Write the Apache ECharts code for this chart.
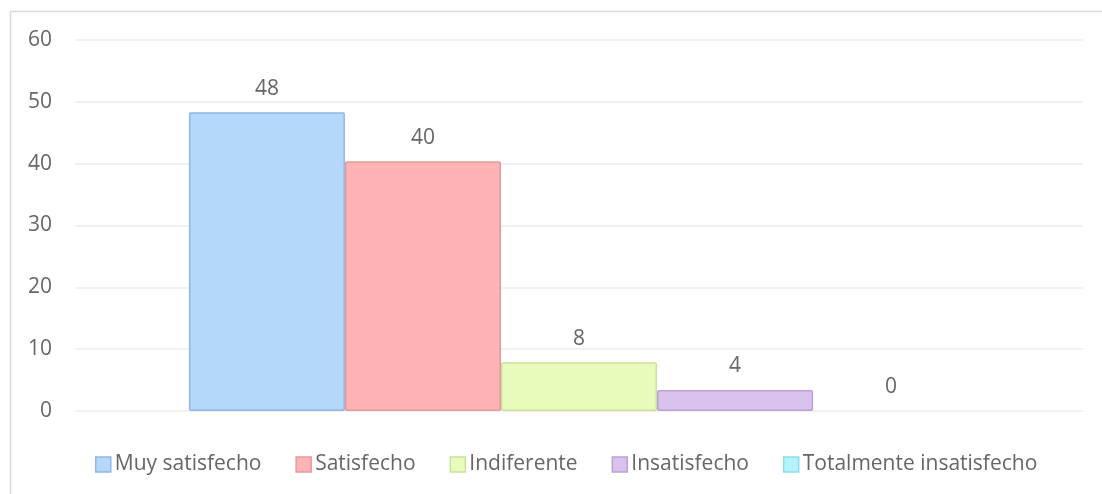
<!DOCTYPE html>
<html>
<head>
<meta charset="utf-8">
<script src="https://cdn.jsdelivr.net/npm/echarts@6/dist/echarts.min.js"></script>
<style>
html,body{margin:0;padding:0;background:#fff;}
#c{width:1102px;height:494px;}
</style>
</head>
<body>
<div id="c"></div>
<script>
const categories = [''];
const seriesNames = ['Muy satisfecho', 'Satisfecho', 'Indiferente', 'Insatisfecho', 'Totalmente insatisfecho'];
const seriesValues = [48.3, 40.4, 7.9, 3.4, 0];
const seriesLabels = ['48', '40', '8', '4', '0'];
const yTicks = [0, 10, 20, 30, 40, 50, 60];

const fills = ['#B4D7FA', '#FFB3B3', '#E9FBBB', '#D9C3EE', '#B3F4FA'];
const borders = ['#8FB6E6', '#E39A9D', '#C9E29C', '#BBA1D4', '#90DDEA'];
const font = '"Open Sans", sans-serif';
const textColor = '#666666';

const chart = echarts.init(document.getElementById('c'), null, {renderer: 'canvas'});
const series = seriesNames.map((name, i) => ({
  name: name,
  type: 'bar',
  data: [seriesValues[i]],
  barGap: '0%',
  barCategoryGap: '22.6%',
  itemStyle: {color: fills[i], borderColor: borders[i], borderWidth: seriesValues[i] === 0 ? 0 : 1.5, borderRadius: 1},
  label: {
    show: true, position: 'top', distance: 13,
    formatter: () => seriesLabels[i],
    color: textColor, fontFamily: font, fontSize: 21
  }
}));

chart.setOption({
  animation: false,
  graphic: [{
    type: 'rect', silent: true, z: -1,
    shape: {x: 10.5, y: 11.5, width: 1200, height: 600},
    style: {fill: 'none', stroke: '#D9D9D9', lineWidth: 1.5}
  }],
  grid: {left: 75, right: 19, top: 40, bottom: 83, containLabel: false},
  xAxis: {
    type: 'category', data: categories,
    axisLine: {show: false}, axisTick: {show: false}, axisLabel: {show: false}
  },
  yAxis: {
    type: 'value', min: yTicks[0], max: yTicks[yTicks.length - 1], interval: 10,
    axisLine: {show: false}, axisTick: {show: false},
    axisLabel: {color: textColor, fontFamily: font, fontSize: 21, margin: 23},
    splitLine: {lineStyle: {color: '#EDEDED', width: 1.5}}
  },
  legend: {
    bottom: 14, left: 90,
    itemWidth: 15, itemHeight: 15, itemGap: 34,
    textStyle: {color: textColor, fontFamily: font, fontSize: 21, padding: [0, 0, 0, -1]},
    data: seriesNames.map((n, i) => ({name: n, icon: 'rect', itemStyle: {color: fills[i], borderColor: borders[i], borderWidth: 1.5}}))
  },
  series: series
});
</script>
</body>
</html>
